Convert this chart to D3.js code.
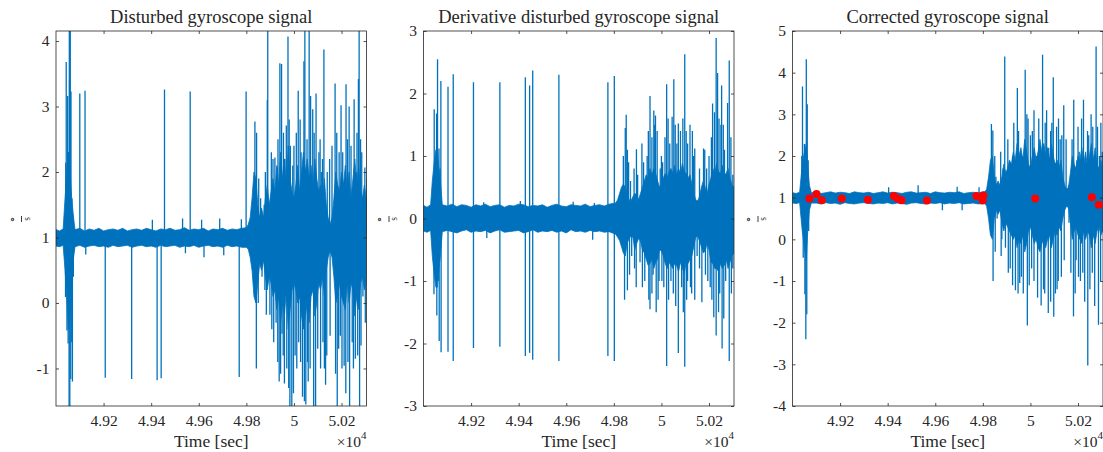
<!DOCTYPE html>
<html><head><meta charset="utf-8">
<script src="https://cdn.jsdelivr.net/npm/d3@7"></script>
<style>
body{margin:0;background:#fff}
svg{display:block}
text{font-family:"Liberation Serif","Times New Roman",serif;fill:#262626}
</style>
</head><body>
<svg id="chart" width="1103" height="452"></svg>
<script>
// ---------------- shared axis data ----------------
const timeDomain = [49000, 50305];
const timeTicks = [49200, 49400, 49600, 49800, 50000, 50200];
const timeTickLabels = ["4.92", "4.94", "4.96", "4.98", "5", "5.02"];
const titles = ["Disturbed gyroscope signal", "Derivative disturbed gyroscope signal", "Corrected gyroscope signal"];
const xLabel = "Time [sec]";

// ---------------- panel 1: disturbed signal ----------------
const distYDomain = [-1.573, 4.153];
const distYTicks = [-1, 0, 1, 2, 3, 4];
const distBaseline = 1;
const distBandT = [49000,49015,49030,49038,49045,49052,49059,49066,49074,
  49080,49100,49120,49140,49160,49180,49200,49220,49240,49260,49280,49300,49320,49340,49360,49380,49400,49420,49440,49460,49480,49500,49520,49540,49560,49580,49600,49620,49640,49660,49680,49700,49720,49740,49760,49780,49800,
  49808,49816,49824,49832,49840,49848,49856,49864,49872,49880,49888,49896,49904,49912,49920,49928,49936,49944,49952,49960,49968,49976,49984,49992,
  50000,50008,50016,50024,50032,50040,50048,50056,50064,50072,50080,50088,50096,50104,50112,50120,50128,50136,50144,50152,50160,50168,50176,50184,50192,
  50200,50208,50216,50224,50232,50240,50248,50256,50264,50272,50280,50288,50296,50304];
const distBandHi = [1.12,1.10,1.13,1.6,2.0,2.3,2.0,1.6,1.3,
  1.12,1.14,1.10,1.13,1.11,1.14,1.10,1.12,1.13,1.11,1.14,1.10,1.12,1.13,1.11,1.14,1.12,1.10,1.13,1.12,1.14,1.11,1.12,1.15,1.11,1.13,1.12,1.14,1.10,1.13,1.12,1.14,1.11,1.13,1.12,1.14,1.15,
  1.2,1.3,1.6,2.0,1.9,1.5,1.3,1.45,1.3,1.6,1.8,1.5,1.7,1.9,1.7,2.1,1.8,2.3,1.9,2.2,1.8,2.4,1.9,1.7,
  1.6,1.8,2.1,1.7,2.0,2.3,2.0,2.2,1.9,2.1,1.8,2.2,1.9,1.7,1.8,1.6,1.9,1.5,1.3,1.2,1.3,1.6,2.0,1.8,1.7,
  2.0,1.8,2.1,1.7,2.0,1.6,1.9,2.2,1.8,2.1,1.7,1.6,1.8,1.6];
const distBandLo = [0.87,0.86,0.88,0.5,0.1,-0.4,-0.2,0.3,0.7,
  0.86,0.88,0.85,0.87,0.88,0.86,0.87,0.85,0.88,0.86,0.87,0.88,0.85,0.87,0.88,0.86,0.87,0.85,0.88,0.86,0.87,0.88,0.85,0.87,0.86,0.88,0.85,0.87,0.88,0.86,0.87,0.85,0.88,0.86,0.87,0.85,0.85,
  0.82,0.7,0.5,0.1,0.0,0.3,0.6,0.5,0.65,0.4,0.2,0.4,0.3,0.1,0.2,-0.1,0.1,-0.3,0.0,-0.2,0.2,-0.4,-0.1,0.2,
  0.3,0.2,0.0,0.1,-0.2,-0.4,-0.2,0.0,-0.3,0.1,0.2,-0.2,0.0,0.3,0.2,0.4,0.1,0.5,0.7,0.8,0.7,0.4,0.0,0.1,0.3,
  0.1,0.0,-0.1,0.3,0.0,0.3,0.2,-0.2,0.1,-0.1,0.3,0.4,0.2,0.3];
const distSpikeT = [49040,49041,49043,49046,49049,49051,49052,49055,49056,49057,49058,49060,49062,49063,49066,49067,49069,49071,49073,
  49100,49122,49125,49207,49318,49405,49425,49442,49456,49532,49544,49564,49612,49622,49688,49705,49770,49779,49799,
  49836,49838,49842,49843,49860,49866,49875,49884,49888,49890,49899,49912,49920,49925,49930,49938,49941,49944,49948,49950,
  49960,49962,49968,49970,49975,49983,49985,49991,49995,50005,50018,50020,50030,50036,50042,50044,50046,50050,50060,50064,
  50070,50079,50091,50093,50100,50105,50115,50126,50128,50133,50150,50152,50160,50173,50175,50182,50195,50198,50205,50211,
  50219,50232,50234,50245,50253,50258,50262,50271,50274,50276,50285,50290,50298,50300,50306,
  49852,49880,49905,49933,49956,49980,50000,50010,50026,50055,50085,50110,50120,50140,50180,50190,50225,50240,50265,50280,
  49850,49878,49907,49915,49932,49955,49978,49998,50012,50028,50057,50068,50083,50112,50122,50138,50188,50202,50218,50227,50250,50268,50282];
const distSpikeV = [0.09,2.14,3.68,-0.42,3.16,-0.62,2.3,-2.0,4.5,3.41,-2.0,4.5,-1.16,3.23,-0.6,1.6,-1.2,1.34,0.4,
  3.20,3.24,0.74,-1.14,-1.16,1.27,-1.18,-1.15,3.26,1.29,0.76,3.23,1.27,0.70,1.29,0.73,-1.13,1.28,3.23,
  2.77,0.17,-1.0,2.60,1.6,0.4,1.5,-0.18,3.1,4.5,-0.18,2.2,2.22,-0.3,2.07,-1.2,3.66,-1.08,3.65,-0.47,
  -1.23,2.2,2.71,-1.0,4.07,-2.0,2.4,-2.0,2.1,-0.8,3.24,-0.6,2.3,-1.43,3.69,-1.5,4.5,-1.55,-1.2,4.5,
  3.16,2.96,-2.0,3.2,-0.7,2.3,2.0,3.87,-1.0,-1.25,2.2,-0.5,2.4,3.35,-1.08,-2.0,-0.5,3.02,2.3,-0.96,
  3.34,3.0,-2.0,-0.6,3.11,-0.85,2.0,3.42,4.5,-2.0,2.3,0.1,2.07,-0.3,1.9,
  1.9,2.0,2.3,2.5,2.6,2.8,2.4,2.6,2.8,2.5,2.6,2.5,2.2,2.0,2.6,2.3,2.5,2.4,2.6,2.5,
  0.0,0.2,-0.4,-0.6,-0.9,-0.8,-1.3,-1.38,-1.0,-0.9,-0.9,-1.0,-2.0,-1.0,-0.6,-0.8,-0.7,-1.0,-1.38,-0.9,-1.0,-0.8,-0.65];

// ---------------- panel 2: derivative ----------------
const derivYDomain = [-3, 3];
const derivYTicks = [-3, -2, -1, 0, 1, 2, 3];
const derivBaseline = 0;
const derivBandT = [49000,49015,49030,49037,49045,49052,49058,49065,49071,49079,
  49100,49120,49140,49160,49180,49200,49220,49240,49260,49280,49300,49320,49340,49360,49380,49400,49420,49440,49460,49480,49500,49520,49540,49560,49580,49600,49620,49640,49660,49680,49700,49720,49740,49760,49780,
  49808,49816,49824,49832,49840,49848,49856,49864,49872,49880,49888,49896,49904,49912,49920,49928,49936,49944,49952,49960,49968,49976,49984,49992,
  50000,50008,50016,50024,50032,50040,50048,50056,50064,50072,50080,50088,50096,50104,50112,50120,50128,50136,50144,50152,50160,50168,50176,50184,50192,
  50200,50208,50216,50224,50232,50240,50248,50256,50264,50272,50280,50288,50296,50304];
const derivBandHi = [0.21,0.18,0.22,0.6,0.9,1.1,1.1,0.8,0.6,0.22,
  0.20,0.23,0.19,0.22,0.21,0.18,0.22,0.20,0.23,0.19,0.21,0.22,0.18,0.21,0.20,0.23,0.22,0.19,0.21,0.20,0.22,0.18,0.21,0.23,0.20,0.19,0.22,0.21,0.20,0.23,0.19,0.21,0.22,0.20,0.23,
  0.25,0.3,0.4,0.5,0.55,0.5,0.4,0.3,0.28,0.35,0.4,0.38,0.3,0.4,0.5,0.6,0.7,0.65,0.8,0.7,0.8,0.72,0.6,0.5,
  0.55,0.65,0.72,0.65,0.75,0.8,0.72,0.85,0.7,0.8,0.72,0.88,0.75,0.72,0.65,0.7,0.55,0.4,0.3,0.28,0.35,0.5,0.6,0.5,0.4,
  0.55,0.65,0.8,0.72,0.88,0.75,0.72,0.85,0.7,0.72,0.8,0.65,0.55,0.5];
const derivBandLo = [-0.20,-0.22,-0.19,-0.6,-0.9,-1.1,-1.1,-0.8,-0.6,-0.21,
  -0.19,-0.21,-0.23,-0.20,-0.18,-0.22,-0.20,-0.21,-0.19,-0.23,-0.20,-0.18,-0.22,-0.21,-0.20,-0.19,-0.23,-0.21,-0.18,-0.22,-0.20,-0.21,-0.19,-0.22,-0.20,-0.23,-0.18,-0.21,-0.20,-0.22,-0.19,-0.21,-0.20,-0.22,-0.21,
  -0.25,-0.3,-0.35,-0.45,-0.55,-0.6,-0.4,-0.32,-0.28,-0.3,-0.5,-0.4,-0.32,-0.36,-0.5,-0.55,-0.65,-0.75,-0.72,-0.65,-0.8,-0.7,-0.65,-0.5,
  -0.52,-0.6,-0.72,-0.8,-0.7,-0.75,-0.8,-0.72,-0.75,-0.85,-0.7,-0.8,-0.88,-0.7,-0.72,-0.65,-0.6,-0.45,-0.3,-0.28,-0.36,-0.45,-0.55,-0.52,-0.4,
  -0.5,-0.7,-0.72,-0.8,-0.8,-0.85,-0.72,-0.8,-0.75,-0.65,-0.8,-0.7,-0.6,-0.56];
const derivSpikeT = [49044,49045,49050,49055,49056,49059,49062,49065,49066,49070,49073,49074,
  49103,49103,49125,49125,49210,49210,49253,49266,49321,49321,49407,49428,49428,49446,49446,49459,49459,49569,49569,49629,49711,49718,49775,49775,49802,49802,
  49840,49845,49848,49852,49857,49857,49870,49875,49894,49895,49900,49910,49925,49930,49940,49952,49952,49960,49965,49968,49975,49978,49982,49990,49995,
  50005,50010,50022,50022,50035,50040,50045,50050,50052,50065,50071,50071,50080,50085,50098,50098,50110,50110,50120,50127,50130,50140,50140,50160,50160,
  50170,50177,50185,50190,50200,50205,50215,50220,50223,50230,50230,50236,50245,50250,50253,50255,50265,50270,50278,50285,50285,50300,50300,50308,
  49862,49885,49918,49945,49972,50000,50015,50028,50058,50090,50104,50135,50182,50210,50242,50260,50292,
  49866,49887,49920,49947,49960,49986,50002,50030,50060,50092,50106,50122,50150,50195,50212,50240,50262,50294];
const derivSpikeV = [-1.21,1.75,0.95,1.68,-1.55,2.55,-1.0,1.12,-1.96,0.8,2.20,-2.14,
  2.11,-2.13,2.31,-2.28,2.18,-2.07,0.26,-0.31,2.18,-2.05,0.28,2.26,-2.20,2.13,-2.15,2.37,-2.26,2.30,-2.28,0.27,-0.34,0.25,2.18,-2.2,2.28,-2.28,
  1.0,-1.3,1.45,1.66,1.1,-1.15,0.6,-0.6,-1.10,1.11,0.7,-0.7,0.9,-1.0,1.0,1.96,-1.45,1.3,-0.9,1.73,1.65,-1.50,1.4,-1.0,0.8,
  0.9,-1.1,2.15,-2.36,1.2,-1.0,1.63,-1.2,2.23,1.2,1.52,-2.15,1.4,-1.1,2.63,-2.37,1.2,-1.0,1.5,-1.2,1.4,1.12,-1.3,0.8,-0.8,
  -1.34,1.12,-0.9,0.8,1.0,-1.1,1.84,-1.58,1.7,2.89,-1.87,2.33,-1.2,1.5,2.13,-2.08,1.1,-1.0,1.85,2.53,-2.28,0.7,-0.8,0.65,
  0.9,0.8,1.2,1.4,1.5,1.0,1.3,1.6,1.5,1.6,1.4,1.0,1.1,1.3,1.6,1.5,1.3,
  -0.9,-0.8,-1.1,-1.3,-1.2,-1.3,-1.0,-1.3,-1.4,-1.5,-1.3,-1.1,-0.6,-1.0,-1.3,-1.5,-1.6,-1.2];

// ---------------- panel 3: corrected signal ----------------
const corrYDomain = [-4, 5];
const corrYTicks = [-4, -3, -2, -1, 0, 1, 2, 3, 4, 5];
const corrBaseline = 1;
const corrBandT = [49000,49015,49030,49041,49050,49058,49065,49071,49079,
  49100,49120,49140,49160,49180,49200,49220,49240,49260,49280,49300,49320,49340,49360,49380,49400,49420,49440,49460,49480,49500,49520,49540,49560,49580,49600,49620,49640,49660,49680,49700,49720,49740,49760,49780,49800,
  49808,49816,49824,49832,49840,49848,49856,49864,49872,49880,49888,49896,49904,49912,49920,49928,49936,49944,49952,49960,49968,49976,49984,49992,
  50000,50008,50016,50024,50032,50040,50048,50056,50064,50072,50080,50088,50096,50104,50112,50120,50128,50136,50144,50152,50160,50168,50176,50184,50192,
  50200,50208,50216,50224,50232,50240,50248,50256,50264,50272,50280,50288,50296,50304];
const corrBandHi = [1.12,1.10,1.13,1.8,2.1,2.3,1.7,1.3,1.12,
  1.13,1.10,1.12,1.14,1.11,1.13,1.12,1.10,1.14,1.12,1.11,1.13,1.10,1.12,1.14,1.11,1.13,1.12,1.10,1.13,1.14,1.11,1.12,1.13,1.10,1.14,1.12,1.11,1.13,1.12,1.14,1.10,1.12,1.13,1.11,1.14,
  1.14,1.2,1.5,1.9,2.0,1.5,1.3,1.4,1.3,1.5,1.8,1.6,1.7,1.9,1.8,2.1,1.9,2.3,2.0,2.2,1.9,2.4,2.1,1.8,
  1.7,2.0,2.2,1.9,2.1,2.4,2.1,2.3,2.0,2.2,1.9,2.3,2.0,1.8,1.9,1.7,1.9,1.5,1.3,1.2,1.25,1.6,2.0,1.8,1.7,
  2.0,1.9,2.2,1.8,2.1,1.7,2.0,2.3,1.9,2.2,1.8,1.7,1.9,1.7];
const corrBandLo = [0.87,0.86,0.88,0.2,-0.2,-0.5,0.3,0.7,0.87,
  0.87,0.85,0.88,0.86,0.87,0.84,0.88,0.86,0.85,0.87,0.88,0.86,0.85,0.87,0.86,0.88,0.85,0.87,0.86,0.84,0.87,0.88,0.86,0.85,0.87,0.86,0.88,0.85,0.87,0.86,0.88,0.85,0.86,0.87,0.85,0.86,
  0.86,0.8,0.5,0.1,0.0,0.5,0.7,0.6,0.7,0.4,0.2,0.4,0.3,0.2,0.1,0.0,0.1,-0.2,0.0,-0.1,0.1,-0.3,-0.1,0.2,
  0.3,0.1,-0.1,0.0,-0.2,-0.3,-0.1,0.0,-0.2,0.0,0.1,-0.2,0.0,0.2,0.1,0.3,0.2,0.5,0.7,0.8,0.75,0.4,0.0,0.2,0.3,
  0.1,0.0,-0.1,0.2,0.0,0.2,0.1,-0.2,0.1,-0.1,0.2,0.3,0.1,0.2];
const corrSpikeT = [49039,49042,49045,49050,49052,49056,49058,49060,49062,49066,49068,
  49404,49528,49630,49692,49713,49784,
  49836,49838,49842,49843,49855,49860,49870,49880,49885,49892,49895,49900,49910,49915,49925,49935,49937,49945,49955,49957,
  49965,49970,49978,49987,49990,50000,50005,50015,50025,50045,50051,50055,50062,50075,50077,50085,50096,50098,50105,50110,
  50117,50125,50140,50142,50150,50160,50162,50181,50182,50192,50195,50205,50210,50220,50223,50235,50241,50245,50260,50262,
  50276,50286,50290,50300,50302,
  49850,49875,49905,49930,49950,49985,50008,50035,50068,50090,50118,50132,50175,50200,50215,50240,50255,50282,50296,
  49852,49877,49907,49925,49948,49962,49995,50015,50030,50060,50085,50112,50130,50170,50188,50202,50228,50250,50270,50295];
const corrSpikeV = [2.0,3.67,-0.44,2.29,-1.32,-2.40,4.32,-1.8,3.24,1.9,0.2,
  1.25,1.30,0.70,1.26,0.70,1.25,
  2.77,0.27,2.61,-1.0,1.5,0.5,1.3,0.0,1.7,4.39,-0.2,1.5,1.37,-0.7,2.0,1.8,-1.22,3.63,-1.05,1.6,
  2.0,-1.3,4.07,-2.07,2.9,2.5,-0.7,3.1,2.0,-1.59,4.43,-1.2,2.8,-1.77,2.2,2.6,3.89,-1.86,-1.3,2.7,
  -1.0,2.4,3.22,-0.5,2.4,1.3,0.4,-1.85,3.35,-0.5,1.9,2.1,-1.0,-0.8,3.35,1.8,-3.03,2.5,-0.8,2.7,
  4.63,-2.05,2.0,0.2,2.1,
  2.0,2.1,2.4,2.8,2.6,3.0,2.6,2.9,3.1,2.8,2.9,2.5,2.4,2.7,2.9,2.6,3.0,2.7,2.8,
  -0.3,-0.4,-0.8,-1.1,-1.3,-0.9,-1.1,-1.0,-1.4,-1.3,-1.5,-1.2,-0.9,-0.8,-1.3,-0.9,-1.5,-1.2,-1.6,-1.0];
// detected outliers (red markers)
const corrDotT = [49071,49101,49123,49207,49317,49426,49442,49458,49565,49773,49799,49802,50020,50258,50287];
const corrDotV = [0.98,1.09,0.94,0.98,0.95,1.04,0.98,0.94,0.93,1.04,0.93,1.05,0.98,1.01,0.83];

// ---------------- drawing ----------------
const svg = d3.select("#chart");
svg.append("rect").attr("width",1103).attr("height",452).attr("fill","#fff");
const TOP = 31, BOTTOM = 406, W = 310.5;
const LINE = "#0072BD", AX = "#262626";
const TICKFS = 15.5, LABFS = 17.5, TITLEFS = 18.5;

const panels = [
  {left:56, title:titles[0], yDomain:distYDomain, yTicks:distYTicks, base:distBaseline,
   bandT:distBandT, bandHi:distBandHi, bandLo:distBandLo, spikeT:distSpikeT, spikeV:distSpikeV},
  {left:423.5, title:titles[1], yDomain:derivYDomain, yTicks:derivYTicks, base:derivBaseline,
   bandT:derivBandT, bandHi:derivBandHi, bandLo:derivBandLo, spikeT:derivSpikeT, spikeV:derivSpikeV},
  {left:792.5, title:titles[2], yDomain:corrYDomain, yTicks:corrYTicks, base:corrBaseline,
   bandT:corrBandT, bandHi:corrBandHi, bandLo:corrBandLo, spikeT:corrSpikeT, spikeV:corrSpikeV,
   dotT:corrDotT, dotV:corrDotV}
];

panels.forEach((p, i) => {
  const x = d3.scaleLinear().domain(timeDomain).range([p.left, p.left + W]);
  const y = d3.scaleLinear().domain(p.yDomain).range([BOTTOM, TOP]);
  const g = svg.append("g");
  const clipId = "clip" + i;
  svg.append("clipPath").attr("id", clipId).append("rect")
    .attr("x", p.left).attr("y", TOP).attr("width", W).attr("height", BOTTOM - TOP);

  const plot = g.append("g").attr("clip-path", `url(#${clipId})`);
  const band = d3.zip(p.bandT, p.bandHi, p.bandLo);
  plot.append("path").datum(band)
    .attr("d", d3.area().x(d => x(d[0])).y0(d => y(d[2])).y1(d => y(d[1])))
    .attr("fill", LINE).attr("stroke", LINE).attr("stroke-width", 0.8);
  plot.append("g").selectAll("line").data(d3.zip(p.spikeT, p.spikeV)).join("line")
    .attr("x1", d => x(d[0])).attr("x2", d => x(d[0]))
    .attr("y1", y(p.base)).attr("y2", d => y(d[1]))
    .attr("stroke", LINE).attr("stroke-width", 1.3);

  // box
  g.append("rect").attr("x", p.left).attr("y", TOP).attr("width", W).attr("height", BOTTOM - TOP)
    .attr("fill", "none").attr("stroke", AX).attr("stroke-width", 0.8);

  const xb = g.append("g").attr("transform", `translate(0,${BOTTOM})`)
    .call(d3.axisBottom(x).tickValues(timeTicks).tickFormat((d, k) => timeTickLabels[k])
      .tickSizeInner(-3).tickSizeOuter(0).tickPadding(9));
  const xt = g.append("g").attr("transform", `translate(0,${TOP})`)
    .call(d3.axisTop(x).tickValues(timeTicks).tickFormat("").tickSizeInner(-3).tickSizeOuter(0));
  const yl = g.append("g").attr("transform", `translate(${p.left},0)`)
    .call(d3.axisLeft(y).tickValues(p.yTicks).tickFormat(d => String(d))
      .tickSizeInner(-3).tickSizeOuter(0).tickPadding(6.5));
  const yr = g.append("g").attr("transform", `translate(${p.left + W},0)`)
    .call(d3.axisRight(y).tickValues(p.yTicks).tickFormat("").tickSizeInner(-3).tickSizeOuter(0));
  [xb, xt, yl, yr].forEach(a => {
    a.attr("font-family", null);
    a.select(".domain").remove();
    a.selectAll(".tick line").attr("stroke", AX).attr("stroke-width", 0.8);
    a.selectAll("text").attr("font-family", "Liberation Serif").attr("font-size", TICKFS).attr("fill", AX);
  });

  // red markers
  if (p.dotT) {
    g.append("g").selectAll("circle").data(d3.zip(p.dotT, p.dotV)).join("circle")
      .attr("cx", d => x(d[0])).attr("cy", d => y(d[1])).attr("r", 4)
      .attr("fill", "#FF0000");
  }

  // title
  svg.append("text").attr("x", p.left + W / 2).attr("y", 23).attr("text-anchor", "middle")
    .attr("font-size", TITLEFS).text(p.title);
  // x label
  svg.append("text").attr("x", p.left + W / 2).attr("y", 446.5).attr("text-anchor", "middle")
    .attr("font-size", LABFS).text(xLabel);
  // exponent
  const ex = svg.append("text").attr("x", p.left + W).attr("y", 446.5).attr("text-anchor", "end")
    .attr("font-size", TICKFS);
  ex.append("tspan").text("×10");
  ex.append("tspan").attr("font-size", 11).attr("dy", -8).text("4");
  // y label: degree / s as rotated fraction
  const yg = svg.append("g").attr("transform", `translate(${p.left - 34.5},219) rotate(-90)`);
  yg.append("text").attr("x", 0).attr("y", -6).attr("text-anchor", "middle")
    .attr("font-family", "DejaVu Sans").attr("font-size", 11).text("∘");
  yg.append("line").attr("x1", -3).attr("x2", 3).attr("y1", 0).attr("y2", 0)
    .attr("stroke", AX).attr("stroke-width", 0.9);
  yg.append("text").attr("x", 0).attr("y", 8).attr("text-anchor", "middle")
    .attr("font-size", 9.5).text("s");
});
</script>
</body></html>
